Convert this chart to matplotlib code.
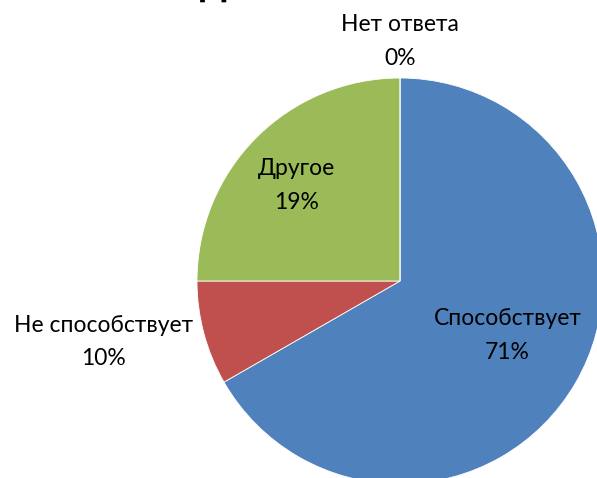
import matplotlib
matplotlib.use('Agg')
import matplotlib.pyplot as plt

# data
categories = ['Способствует', 'Не способствует', 'Другое', 'Нет ответа']
shares = [66.7, 8.3, 25.0, 0.0]          # slice sizes as drawn
pct_labels = ['71%', '10%', '19%', '0%']  # percentages as printed on the chart
colors = ['#4F81BD', '#C0504D', '#9BBB59', '#8064A2']

# label centres in pie units (radius = 1)
label_pos = [(0.53, -0.27), (-1.46, -0.30), (-0.51, 0.47), (0.0, 1.18)]

plt.rcParams['font.family'] = ['Lato', 'DejaVu Sans']

fig = plt.figure(figsize=(5.97, 4.78), dpi=100)
ax = fig.add_axes([197 / 597, -6 / 478, 406 / 597, 406 / 478])

ax.pie(shares, colors=colors, startangle=90, counterclock=False,
       wedgeprops={'linewidth': 0.6, 'edgecolor': 'white'})
ax.set_xlim(-1, 1)
ax.set_ylim(-1, 1)
ax.set_aspect('equal')
ax.axis('off')

for name, pct, (x, y) in zip(categories, pct_labels, label_pos):
    ax.text(x, y, f'{name}\n{pct}', ha='center', va='center',
            fontsize=16.5, linespacing=1.75, color='black', clip_on=False)

# chart title, mostly cut off by the top edge of the picture
fig.text(213.5 / 597, 1 + 3.5 / 478, 'д', ha='center', va='baseline',
         fontsize=27, fontweight='bold', family='DejaVu Sans')

fig.savefig('out.png', dpi=100)
plt.close()
